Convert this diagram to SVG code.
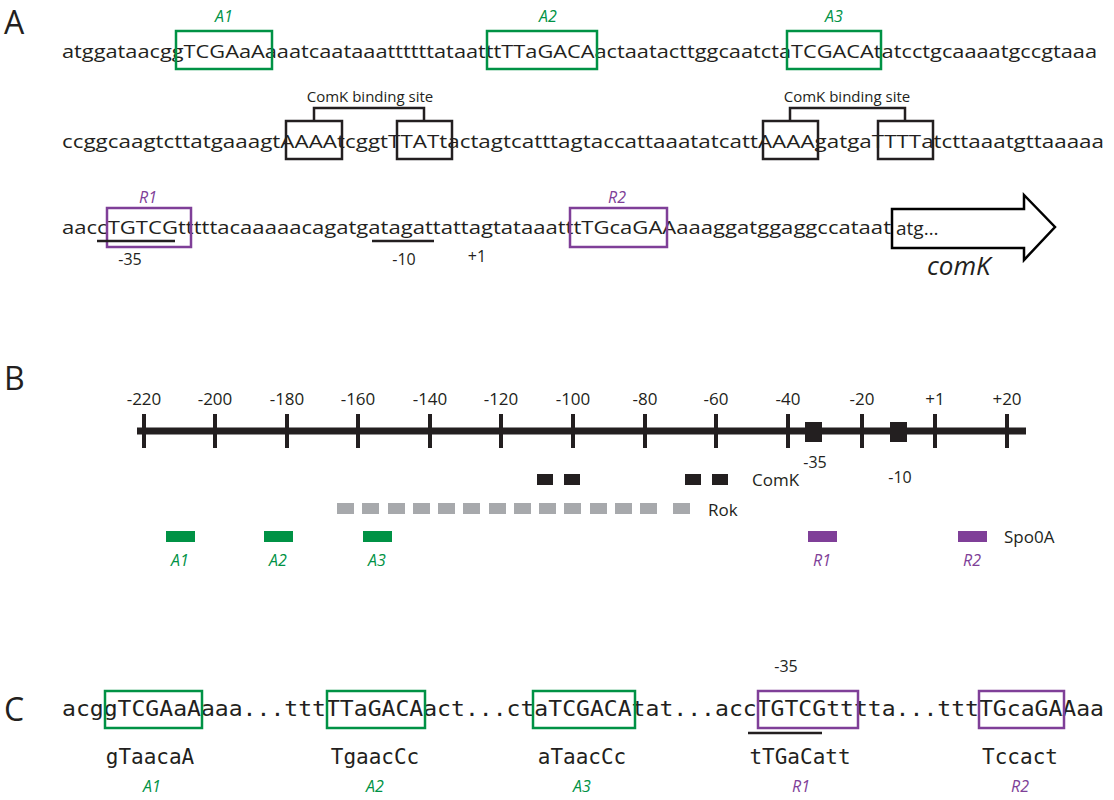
<svg xmlns="http://www.w3.org/2000/svg" width="1114" height="800" viewBox="0 0 1114 800">
<style>
.seq{font-family:"Open Sans","Liberation Sans",sans-serif;font-size:19px;fill:#231f20}
.mono{font-family:"DejaVu Sans Mono","Liberation Mono",monospace;font-size:21px;fill:#231f20}
.lab{font-family:"Open Sans","Liberation Sans",sans-serif;font-size:16px;fill:#231f20}
.pan{font-family:"Open Sans","Liberation Sans",sans-serif;font-size:32px;fill:#231f20}
.g{fill:#009245}.p{fill:#7f3f98}
.it{font-family:"Open Sans","Liberation Sans",sans-serif;font-style:italic;font-size:16px;text-anchor:middle}
.gb{fill:none;stroke:#009245;stroke-width:2.5}
.pb{fill:none;stroke:#7f3f98;stroke-width:2.5}
.kb{fill:none;stroke:#231f20;stroke-width:2.5}
.c{text-anchor:middle}
</style>
<text class="pan" x="4" y="34">A</text>
<text class="pan" x="4" y="390">B</text>
<text class="pan" x="4" y="721">C</text>
<g id="panelA">
<text class="seq" x="62" y="58" textLength="1035" lengthAdjust="spacingAndGlyphs">atggataacggTCGAaAaaatcaataaattttttataatttTTaGACAactaatacttggcaatctaTCGACAtatcctgcaaaatgccgtaaa</text>
<rect class="gb" x="176" y="31" width="96" height="38"/>
<rect class="gb" x="487" y="31" width="110" height="38"/>
<rect class="gb" x="787" y="31" width="94" height="38"/>
<text class="it g" x="224" y="22">A1</text>
<text class="it g" x="548" y="22">A2</text>
<text class="it g" x="834" y="22">A3</text>
<text class="seq" x="62" y="148" textLength="1042" lengthAdjust="spacingAndGlyphs">ccggcaagtcttatgaaagtAAAAtcggtTTATtactagtcatttagtaccattaaatatcattAAAAgatgaTTTTatcttaaatgttaaaaa</text>
<rect class="kb" x="286" y="121" width="56" height="38"/>
<rect class="kb" x="397" y="121" width="55" height="38"/>
<rect class="kb" x="763" y="121" width="55" height="38"/>
<rect class="kb" x="878" y="121" width="55" height="38"/>
<path class="kb" d="M314 121V108H424V121M790 121V108H905V121"/>
<text class="lab c" x="370" y="102" style="font-size:15px">ComK binding site</text>
<text class="lab c" x="847" y="102" style="font-size:15px">ComK binding site</text>
<text class="seq" x="62" y="234" textLength="829" lengthAdjust="spacingAndGlyphs">aaccTGTCGtttttacaaaaacagatgatagattattagtataaatttTGcaGAAaaaggatggaggccataat</text>
<rect class="pb" x="107" y="208" width="84" height="39"/>
<rect class="pb" x="570" y="208" width="97" height="39"/>
<text class="it p" x="148" y="203">R1</text>
<text class="it p" x="617" y="203">R2</text>
<path d="M97 241H175M372 241H434" stroke="#231f20" stroke-width="2.5"/>
<text class="lab c" x="130" y="265">-35</text>
<text class="lab c" x="404" y="265">-10</text>
<text class="lab c" x="477" y="262">+1</text>
<path d="M892 209H1024V195L1055 227L1024 260V248H892Z" fill="#fff" stroke="#000" stroke-width="2.5"/>
<text class="seq" x="896" y="235">atg…</text>
<text x="927" y="275" style="font-family:'Open Sans','Liberation Sans',sans-serif;font-style:italic;font-size:26px;fill:#231f20">comK</text>
</g>
<g id="panelB">
<line x1="137" y1="431" x2="1026" y2="431" stroke="#231f20" stroke-width="7"/>
<g stroke="#231f20" stroke-width="4">
<path d="M144 414V448M215 414V448M287 414V448M358 414V448M430 414V448M501 414V448M573 414V448M645 414V448M716 414V448M788 414V448M862 414V448M935 414V448M1007 414V448"/>
</g>
<g class="lab c" style="font-size:17px">
<text x="144" y="405">-220</text><text x="215" y="405">-200</text><text x="287" y="405">-180</text><text x="358" y="405">-160</text><text x="430" y="405">-140</text><text x="501" y="405">-120</text><text x="573" y="405">-100</text><text x="645" y="405">-80</text><text x="716" y="405">-60</text><text x="788" y="405">-40</text><text x="862" y="405">-20</text><text x="935" y="405">+1</text><text x="1007" y="405">+20</text>
</g>
<rect x="805" y="422" width="17" height="20" fill="#231f20"/>
<rect x="890" y="422" width="17" height="20" fill="#231f20"/>
<text class="lab c" x="815" y="468">-35</text>
<text class="lab c" x="900" y="483">-10</text>
<g fill="#231f20"><rect x="537" y="474" width="16" height="11"/><rect x="564" y="474" width="16" height="11"/><rect x="685" y="474" width="16" height="11"/><rect x="712" y="474" width="16" height="11"/></g>
<text class="lab" x="752" y="486" style="font-size:17px">ComK</text>
<g fill="#a7a9ac">
<rect x="337" y="503" width="17" height="11"/><rect x="362" y="503" width="17" height="11"/><rect x="388" y="503" width="17" height="11"/><rect x="413" y="503" width="17" height="11"/><rect x="438" y="503" width="17" height="11"/><rect x="463" y="503" width="17" height="11"/><rect x="489" y="503" width="17" height="11"/><rect x="514" y="503" width="17" height="11"/><rect x="539" y="503" width="17" height="11"/><rect x="564" y="503" width="17" height="11"/><rect x="590" y="503" width="17" height="11"/><rect x="615" y="503" width="17" height="11"/><rect x="640" y="503" width="17" height="11"/><rect x="673" y="503" width="17" height="11"/>
</g>
<text class="lab" x="708" y="516" style="font-size:17px">Rok</text>
<rect x="166" y="531" width="29" height="11" fill="#009245"/><rect x="264" y="531" width="29" height="11" fill="#009245"/><rect x="363" y="531" width="29" height="11" fill="#009245"/>
<rect x="808" y="531" width="29" height="11" fill="#7f3f98"/><rect x="958" y="531" width="29" height="11" fill="#7f3f98"/>
<text class="lab" x="1004" y="543" style="font-size:17px">Spo0A</text>
<text class="it g" x="180" y="566">A1</text><text class="it g" x="278" y="566">A2</text><text class="it g" x="377" y="566">A3</text>
<text class="it p" x="822" y="566">R1</text><text class="it p" x="972" y="566">R2</text>
</g>
<g id="panelC">
<text class="mono" x="62" y="716" textLength="1042" lengthAdjust="spacingAndGlyphs">acggTCGAaAaaa...tttTTaGACAact...ctaTCGACAtat...accTGTCGtttta...tttTGcaGAAaa</text>
<rect class="gb" x="105" y="691" width="97" height="37"/>
<rect class="gb" x="327" y="691" width="98" height="37"/>
<rect class="gb" x="533" y="691" width="102" height="37"/>
<rect class="pb" x="758" y="691" width="100" height="37"/>
<rect class="pb" x="979" y="691" width="85" height="37"/>
<path d="M748 733H822" stroke="#231f20" stroke-width="2.5"/>
<text class="lab c" x="786" y="672">-35</text>
<g class="mono c">
<text x="150" y="764">gTaacaA</text><text x="375" y="764">TgaacCc</text><text x="582" y="764">aTaacCc</text><text x="800" y="764">tTGaCatt</text><text x="1020" y="764">Tccact</text>
</g>
<text class="it g" x="152" y="792">A1</text><text class="it g" x="375" y="792">A2</text><text class="it g" x="582" y="792">A3</text>
<text class="it p" x="801" y="792">R1</text><text class="it p" x="1020" y="792">R2</text>
</g>
</svg>
